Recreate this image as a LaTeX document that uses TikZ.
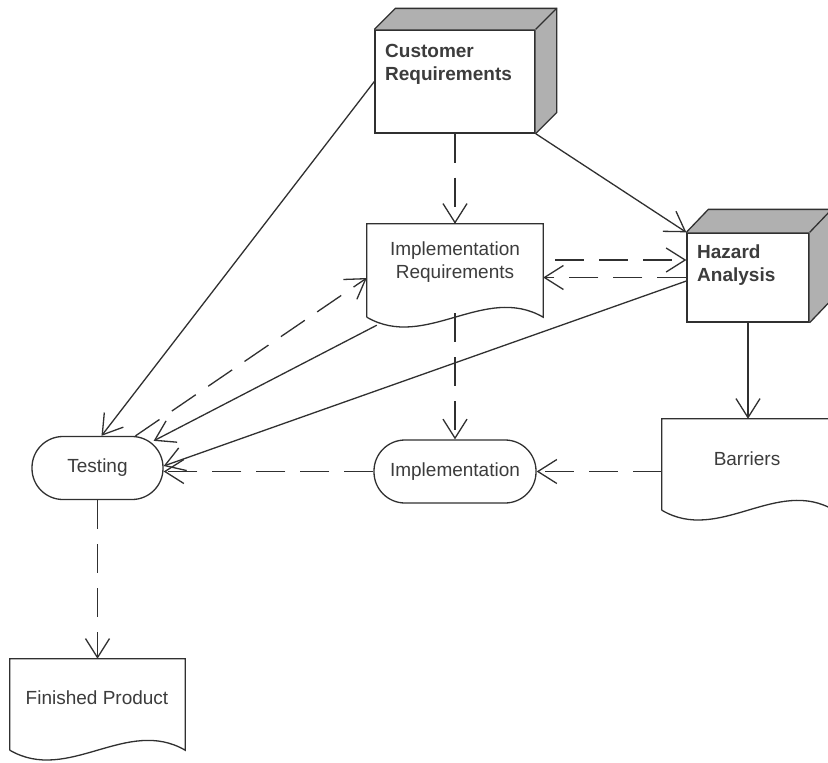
\documentclass[tikz,border=0pt]{standalone}
\usepackage{fontspec}
\setmainfont{Liberation Sans}
\usetikzlibrary{arrows.meta,calc}
\definecolor{ln}{RGB}{48,48,48}
\definecolor{tx}{RGB}{60,60,60}
\definecolor{face}{RGB}{176,176,176}
\tikzset{
  every picture/.style={x=1pt,y=-1pt},
  lw/.style={line width=1.3pt,draw=ln},
  plain/.style={lw,-{Straight Barb[length=19pt,width=24pt,line width=1.3pt]}},
  dsh/.style={plain,dash pattern=on 29pt off 15pt},
  box/.style={rectangle,lw,fill=white,inner sep=0pt},
  ghost/.style={rectangle,inner sep=0pt},
  stad/.style={rectangle,lw,rounded corners=31pt,inner sep=0pt,text=tx,font=\fontsize{19}{23}\selectfont},
  lbl/.style={inner sep=0pt,text=tx,font=\fontsize{19}{23}\selectfont},
  blbl/.style={inner sep=0pt,text=tx,font=\fontsize{19}{23}\selectfont\bfseries,align=left},
}
\newcommand{\docpath}[1]{%
  \draw[lw,fill=white] (#1.south west) -- (#1.north west) -- (#1.north east) -- (#1.south east)
    .. controls ($(#1.south east)!0.333!(#1.south west)+(0,-34)$) and ($(#1.south east)!0.667!(#1.south west)+(0,34)$) .. (#1.south west);}
\newcommand{\cubepath}[3]{%
  \fill[face] (#1.north west) -- ++(#2,-#3) -- ($(#1.north east)+(#2,-#3)$) -- ($(#1.south east)+(#2,-#3)$) -- (#1.south east) -- (#1.north east) -- cycle;
  \draw[lw] (#1.north west) -- ++(#2,-#3) -- ($(#1.north east)+(#2,-#3)$) -- ($(#1.south east)+(#2,-#3)$) -- (#1.south east);
  \draw[lw] (#1.north east) -- ++(#2,-#3);}
\begin{document}
\begin{tikzpicture}
\useasboundingbox[fill=white] (0,0) rectangle (828,763);
% Customer Requirements (3D box)
\node[box,minimum width=160pt,minimum height=103pt] (cr) at (455,81.5) {};
\cubepath{cr}{21}{21}
\node[blbl,anchor=north west] (crt) at (385,44) {Customer\\Requirements};
% Hazard Analysis (3D box)
\node[box,minimum width=122pt,minimum height=89pt] (hz) at (748,277.5) {};
\cubepath{hz}{22}{23}
\node[blbl,anchor=north west] (hzt) at (697,245) {Hazard\\Analysis};
% Implementation Requirements (document)
\node[ghost,minimum width=176pt,minimum height=93pt] (ir) at (455,270.5) {};
\docpath{ir}
\node[lbl,align=center,anchor=north] (irt) at (455,242) {Implementation\\Requirements};
% Barriers (document)
\node[ghost,minimum width=172pt,minimum height=91pt] (br) at (748,464.5) {};
\docpath{br}
\node[lbl,anchor=base] (brt) at (747,465) {Barriers};
% Finished Product (document)
\node[ghost,minimum width=175pt,minimum height=91pt] (fp) at (97.5,704.5) {};
\docpath{fp}
\node[lbl,anchor=base] (fpt) at (97,704) {Finished Product};
% Testing and Implementation (terminators)
\node[stad,minimum width=131pt,minimum height=63pt] (ts) at (97.5,468) {Testing};
\node[stad,minimum width=162pt,minimum height=63pt] (im) at (455,471.5) {Implementation};
% connectors
\draw[plain] (cr.west) -- ([xshift=4pt]ts.north);
\draw[dsh] (cr.south) -- (ir.north);
\draw[plain] (cr.south east) -- (hz.north west);
\draw[dsh,dash phase=32pt] ([yshift=10.5pt]ir.east) -- ([yshift=17.5pt]hz.west);
\draw[dsh] (hz.west) -- ([yshift=-7pt]ir.east);
\draw[plain] ([yshift=-3.5pt]hz.west) -- ([yshift=2pt]ts.east);
\draw[plain] ([xshift=10pt,yshift=-8pt]ir.south west) -- ([xshift=-10pt,yshift=-5pt]ts.north east);
\draw[dsh] ([xshift=38pt]ts.north) -- ([yshift=-7.5pt]ir.west);
\draw[dsh] ([yshift=4pt]ir.south) -- (im.north);
\draw[plain] (hz.south) -- (br.north);
\draw[dsh] ([yshift=-7pt]br.west) -- (im.east);
\draw[dsh] (im.west) -- (im.west -| ts.east);
\draw[dsh] (ts.south) -- (fp.north);
\end{tikzpicture}
\end{document}
